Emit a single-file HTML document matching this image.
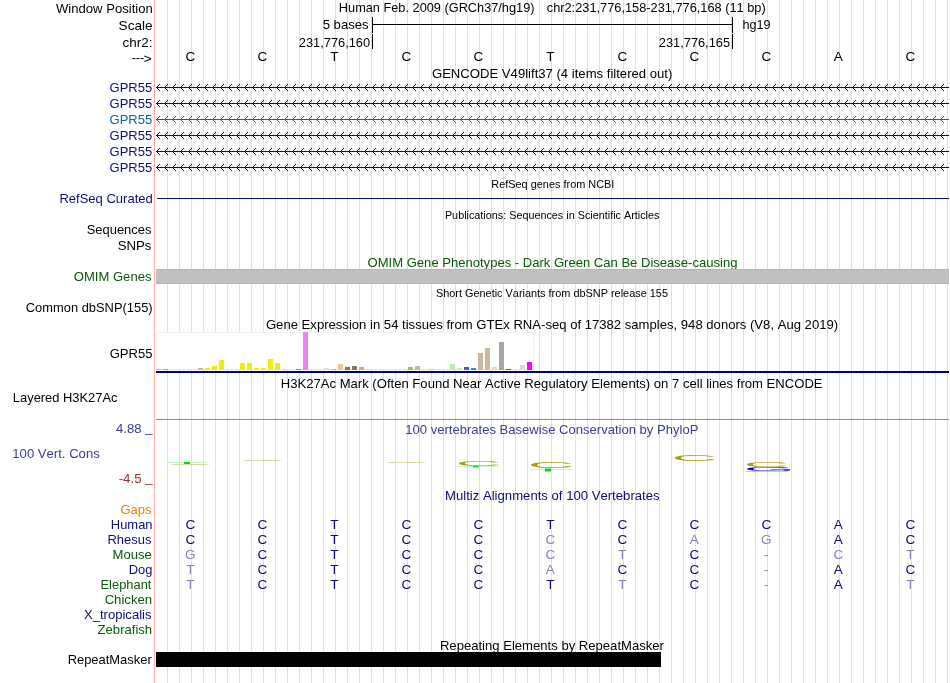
<!DOCTYPE html>
<html><head><meta charset="utf-8"><title>UCSC Genome Browser</title>
<style>html,body{margin:0;padding:0;background:#fff;width:950px;height:683px;overflow:hidden}svg{display:block}</style>
</head><body>
<svg width="950" height="683" viewBox="0 0 950 683" font-family='"Liberation Sans", Arial, Helvetica, sans-serif' style="font-kerning:none"><rect x="167" y="0" width="1" height="683" fill="#dcdcff"/>
<rect x="179" y="0" width="1" height="683" fill="#dcdcff"/>
<rect x="191" y="0" width="1" height="683" fill="#dcdcff"/>
<rect x="203" y="0" width="1" height="683" fill="#dcdcff"/>
<rect x="215" y="0" width="1" height="683" fill="#dcdcff"/>
<rect x="227" y="0" width="1" height="683" fill="#dcdcff"/>
<rect x="239" y="0" width="1" height="683" fill="#dcdcff"/>
<rect x="251" y="0" width="1" height="683" fill="#dcdcff"/>
<rect x="263" y="0" width="1" height="683" fill="#dcdcff"/>
<rect x="275" y="0" width="1" height="683" fill="#dcdcff"/>
<rect x="287" y="0" width="1" height="683" fill="#dcdcff"/>
<rect x="299" y="0" width="1" height="683" fill="#dcdcff"/>
<rect x="311" y="0" width="1" height="683" fill="#dcdcff"/>
<rect x="323" y="0" width="1" height="683" fill="#dcdcff"/>
<rect x="335" y="0" width="1" height="683" fill="#dcdcff"/>
<rect x="347" y="0" width="1" height="683" fill="#dcdcff"/>
<rect x="359" y="0" width="1" height="683" fill="#dcdcff"/>
<rect x="371" y="0" width="1" height="683" fill="#dcdcff"/>
<rect x="383" y="0" width="1" height="683" fill="#dcdcff"/>
<rect x="395" y="0" width="1" height="683" fill="#dcdcff"/>
<rect x="407" y="0" width="1" height="683" fill="#dcdcff"/>
<rect x="419" y="0" width="1" height="683" fill="#dcdcff"/>
<rect x="431" y="0" width="1" height="683" fill="#dcdcff"/>
<rect x="443" y="0" width="1" height="683" fill="#dcdcff"/>
<rect x="455" y="0" width="1" height="683" fill="#dcdcff"/>
<rect x="467" y="0" width="1" height="683" fill="#dcdcff"/>
<rect x="479" y="0" width="1" height="683" fill="#dcdcff"/>
<rect x="491" y="0" width="1" height="683" fill="#dcdcff"/>
<rect x="503" y="0" width="1" height="683" fill="#dcdcff"/>
<rect x="515" y="0" width="1" height="683" fill="#dcdcff"/>
<rect x="527" y="0" width="1" height="683" fill="#dcdcff"/>
<rect x="539" y="0" width="1" height="683" fill="#dcdcff"/>
<rect x="551" y="0" width="1" height="683" fill="#dcdcff"/>
<rect x="563" y="0" width="1" height="683" fill="#dcdcff"/>
<rect x="575" y="0" width="1" height="683" fill="#dcdcff"/>
<rect x="587" y="0" width="1" height="683" fill="#dcdcff"/>
<rect x="599" y="0" width="1" height="683" fill="#dcdcff"/>
<rect x="611" y="0" width="1" height="683" fill="#dcdcff"/>
<rect x="623" y="0" width="1" height="683" fill="#dcdcff"/>
<rect x="635" y="0" width="1" height="683" fill="#dcdcff"/>
<rect x="647" y="0" width="1" height="683" fill="#dcdcff"/>
<rect x="659" y="0" width="1" height="683" fill="#dcdcff"/>
<rect x="671" y="0" width="1" height="683" fill="#dcdcff"/>
<rect x="683" y="0" width="1" height="683" fill="#dcdcff"/>
<rect x="695" y="0" width="1" height="683" fill="#dcdcff"/>
<rect x="707" y="0" width="1" height="683" fill="#dcdcff"/>
<rect x="719" y="0" width="1" height="683" fill="#dcdcff"/>
<rect x="731" y="0" width="1" height="683" fill="#dcdcff"/>
<rect x="743" y="0" width="1" height="683" fill="#dcdcff"/>
<rect x="755" y="0" width="1" height="683" fill="#dcdcff"/>
<rect x="767" y="0" width="1" height="683" fill="#dcdcff"/>
<rect x="779" y="0" width="1" height="683" fill="#dcdcff"/>
<rect x="791" y="0" width="1" height="683" fill="#dcdcff"/>
<rect x="803" y="0" width="1" height="683" fill="#dcdcff"/>
<rect x="815" y="0" width="1" height="683" fill="#dcdcff"/>
<rect x="827" y="0" width="1" height="683" fill="#dcdcff"/>
<rect x="839" y="0" width="1" height="683" fill="#dcdcff"/>
<rect x="851" y="0" width="1" height="683" fill="#dcdcff"/>
<rect x="863" y="0" width="1" height="683" fill="#dcdcff"/>
<rect x="875" y="0" width="1" height="683" fill="#dcdcff"/>
<rect x="887" y="0" width="1" height="683" fill="#dcdcff"/>
<rect x="899" y="0" width="1" height="683" fill="#dcdcff"/>
<rect x="911" y="0" width="1" height="683" fill="#dcdcff"/>
<rect x="923" y="0" width="1" height="683" fill="#dcdcff"/>
<rect x="935" y="0" width="1" height="683" fill="#dcdcff"/>
<rect x="947" y="0" width="1" height="683" fill="#dcdcff"/>
<rect x="154" y="0" width="1" height="683" fill="#ffb4b4"/>
<text x="338.85" y="12" font-size="13.5" fill="#000" textLength="195.64" lengthAdjust="spacingAndGlyphs">Human Feb. 2009 (GRCh37/hg19)</text>
<text x="546.76" y="12" font-size="13.5" fill="#000" textLength="218.94" lengthAdjust="spacingAndGlyphs">chr2:231,776,158-231,776,168 (11 bp)</text>
<rect x="372" y="24" width="361" height="1" fill="#000"/>
<rect x="372" y="17" width="1" height="16" fill="#000"/>
<rect x="732" y="17" width="1" height="16" fill="#000"/>
<text x="322.67" y="29" font-size="13.5" fill="#000" textLength="46.00" lengthAdjust="spacingAndGlyphs">5 bases</text>
<text x="742.42" y="29" font-size="13.5" fill="#000" textLength="28.18" lengthAdjust="spacingAndGlyphs">hg19</text>
<rect x="372" y="34" width="1" height="15" fill="#000"/>
<rect x="732" y="34" width="1" height="15" fill="#000"/>
<text x="298.86" y="47" font-size="13.5" fill="#000" textLength="71.24" lengthAdjust="spacingAndGlyphs">231,776,160</text>
<text x="658.86" y="47" font-size="13.5" fill="#000" textLength="71.18" lengthAdjust="spacingAndGlyphs">231,776,165</text>
<text x="190.3" y="61" font-size="13.5" fill="#000" text-anchor="middle">C</text>
<text x="262.3" y="61" font-size="13.5" fill="#000" text-anchor="middle">C</text>
<text x="334.3" y="61" font-size="13.5" fill="#000" text-anchor="middle">T</text>
<text x="406.3" y="61" font-size="13.5" fill="#000" text-anchor="middle">C</text>
<text x="478.3" y="61" font-size="13.5" fill="#000" text-anchor="middle">C</text>
<text x="550.3" y="61" font-size="13.5" fill="#000" text-anchor="middle">T</text>
<text x="622.3" y="61" font-size="13.5" fill="#000" text-anchor="middle">C</text>
<text x="694.3" y="61" font-size="13.5" fill="#000" text-anchor="middle">C</text>
<text x="766.3" y="61" font-size="13.5" fill="#000" text-anchor="middle">C</text>
<text x="838.3" y="61" font-size="13.5" fill="#000" text-anchor="middle">A</text>
<text x="910.3" y="61" font-size="13.5" fill="#000" text-anchor="middle">C</text>
<text x="55.94" y="13" font-size="13.5" fill="#000" textLength="96.81" lengthAdjust="spacingAndGlyphs">Window Position</text>
<text x="118.58" y="30" font-size="13.5" fill="#000" textLength="34.02" lengthAdjust="spacingAndGlyphs">Scale</text>
<text x="122.53" y="47" font-size="13.5" fill="#000" textLength="29.90" lengthAdjust="spacingAndGlyphs">chr2:</text>
<text x="131.63" y="62" font-size="13.5" fill="#000"><tspan textLength="12.73" lengthAdjust="spacingAndGlyphs">---</tspan><tspan x="143.51" y="62.9" textLength="8.17" lengthAdjust="spacingAndGlyphs">&gt;</tspan></text>
<text x="431.94" y="78" font-size="13.5" fill="#000" textLength="240.37" lengthAdjust="spacingAndGlyphs">GENCODE V49lift37 (4 items filtered out)</text>
<text x="109.55" y="92" font-size="13.5" fill="#0c0c78" textLength="42.70" lengthAdjust="spacingAndGlyphs">GPR55</text>
<rect x="156" y="87" width="793" height="1" fill="#0c0c78"/>
<path d="M160.0,84.0L156.5,87.5L160.0,91.0M168.0,84.0L164.5,87.5L168.0,91.0M176.0,84.0L172.5,87.5L176.0,91.0M184.0,84.0L180.5,87.5L184.0,91.0M192.0,84.0L188.5,87.5L192.0,91.0M200.0,84.0L196.5,87.5L200.0,91.0M208.0,84.0L204.5,87.5L208.0,91.0M216.0,84.0L212.5,87.5L216.0,91.0M224.0,84.0L220.5,87.5L224.0,91.0M232.0,84.0L228.5,87.5L232.0,91.0M240.0,84.0L236.5,87.5L240.0,91.0M248.0,84.0L244.5,87.5L248.0,91.0M256.0,84.0L252.5,87.5L256.0,91.0M264.0,84.0L260.5,87.5L264.0,91.0M272.0,84.0L268.5,87.5L272.0,91.0M280.0,84.0L276.5,87.5L280.0,91.0M288.0,84.0L284.5,87.5L288.0,91.0M296.0,84.0L292.5,87.5L296.0,91.0M304.0,84.0L300.5,87.5L304.0,91.0M312.0,84.0L308.5,87.5L312.0,91.0M320.0,84.0L316.5,87.5L320.0,91.0M328.0,84.0L324.5,87.5L328.0,91.0M336.0,84.0L332.5,87.5L336.0,91.0M344.0,84.0L340.5,87.5L344.0,91.0M352.0,84.0L348.5,87.5L352.0,91.0M360.0,84.0L356.5,87.5L360.0,91.0M368.0,84.0L364.5,87.5L368.0,91.0M376.0,84.0L372.5,87.5L376.0,91.0M384.0,84.0L380.5,87.5L384.0,91.0M392.0,84.0L388.5,87.5L392.0,91.0M400.0,84.0L396.5,87.5L400.0,91.0M408.0,84.0L404.5,87.5L408.0,91.0M416.0,84.0L412.5,87.5L416.0,91.0M424.0,84.0L420.5,87.5L424.0,91.0M432.0,84.0L428.5,87.5L432.0,91.0M440.0,84.0L436.5,87.5L440.0,91.0M448.0,84.0L444.5,87.5L448.0,91.0M456.0,84.0L452.5,87.5L456.0,91.0M464.0,84.0L460.5,87.5L464.0,91.0M472.0,84.0L468.5,87.5L472.0,91.0M480.0,84.0L476.5,87.5L480.0,91.0M488.0,84.0L484.5,87.5L488.0,91.0M496.0,84.0L492.5,87.5L496.0,91.0M504.0,84.0L500.5,87.5L504.0,91.0M512.0,84.0L508.5,87.5L512.0,91.0M520.0,84.0L516.5,87.5L520.0,91.0M528.0,84.0L524.5,87.5L528.0,91.0M536.0,84.0L532.5,87.5L536.0,91.0M544.0,84.0L540.5,87.5L544.0,91.0M552.0,84.0L548.5,87.5L552.0,91.0M560.0,84.0L556.5,87.5L560.0,91.0M568.0,84.0L564.5,87.5L568.0,91.0M576.0,84.0L572.5,87.5L576.0,91.0M584.0,84.0L580.5,87.5L584.0,91.0M592.0,84.0L588.5,87.5L592.0,91.0M600.0,84.0L596.5,87.5L600.0,91.0M608.0,84.0L604.5,87.5L608.0,91.0M616.0,84.0L612.5,87.5L616.0,91.0M624.0,84.0L620.5,87.5L624.0,91.0M632.0,84.0L628.5,87.5L632.0,91.0M640.0,84.0L636.5,87.5L640.0,91.0M648.0,84.0L644.5,87.5L648.0,91.0M656.0,84.0L652.5,87.5L656.0,91.0M664.0,84.0L660.5,87.5L664.0,91.0M672.0,84.0L668.5,87.5L672.0,91.0M680.0,84.0L676.5,87.5L680.0,91.0M688.0,84.0L684.5,87.5L688.0,91.0M696.0,84.0L692.5,87.5L696.0,91.0M704.0,84.0L700.5,87.5L704.0,91.0M712.0,84.0L708.5,87.5L712.0,91.0M720.0,84.0L716.5,87.5L720.0,91.0M728.0,84.0L724.5,87.5L728.0,91.0M736.0,84.0L732.5,87.5L736.0,91.0M744.0,84.0L740.5,87.5L744.0,91.0M752.0,84.0L748.5,87.5L752.0,91.0M760.0,84.0L756.5,87.5L760.0,91.0M768.0,84.0L764.5,87.5L768.0,91.0M776.0,84.0L772.5,87.5L776.0,91.0M784.0,84.0L780.5,87.5L784.0,91.0M792.0,84.0L788.5,87.5L792.0,91.0M800.0,84.0L796.5,87.5L800.0,91.0M808.0,84.0L804.5,87.5L808.0,91.0M816.0,84.0L812.5,87.5L816.0,91.0M824.0,84.0L820.5,87.5L824.0,91.0M832.0,84.0L828.5,87.5L832.0,91.0M840.0,84.0L836.5,87.5L840.0,91.0M848.0,84.0L844.5,87.5L848.0,91.0M856.0,84.0L852.5,87.5L856.0,91.0M864.0,84.0L860.5,87.5L864.0,91.0M872.0,84.0L868.5,87.5L872.0,91.0M880.0,84.0L876.5,87.5L880.0,91.0M888.0,84.0L884.5,87.5L888.0,91.0M896.0,84.0L892.5,87.5L896.0,91.0M904.0,84.0L900.5,87.5L904.0,91.0M912.0,84.0L908.5,87.5L912.0,91.0M920.0,84.0L916.5,87.5L920.0,91.0M928.0,84.0L924.5,87.5L928.0,91.0M936.0,84.0L932.5,87.5L936.0,91.0M944.0,84.0L940.5,87.5L944.0,91.0" stroke="#0c0c78" stroke-width="1" fill="none"/>
<text x="109.55" y="108" font-size="13.5" fill="#0c0c78" textLength="42.70" lengthAdjust="spacingAndGlyphs">GPR55</text>
<rect x="156" y="103" width="793" height="1" fill="#0c0c78"/>
<path d="M160.0,100.0L156.5,103.5L160.0,107.0M168.0,100.0L164.5,103.5L168.0,107.0M176.0,100.0L172.5,103.5L176.0,107.0M184.0,100.0L180.5,103.5L184.0,107.0M192.0,100.0L188.5,103.5L192.0,107.0M200.0,100.0L196.5,103.5L200.0,107.0M208.0,100.0L204.5,103.5L208.0,107.0M216.0,100.0L212.5,103.5L216.0,107.0M224.0,100.0L220.5,103.5L224.0,107.0M232.0,100.0L228.5,103.5L232.0,107.0M240.0,100.0L236.5,103.5L240.0,107.0M248.0,100.0L244.5,103.5L248.0,107.0M256.0,100.0L252.5,103.5L256.0,107.0M264.0,100.0L260.5,103.5L264.0,107.0M272.0,100.0L268.5,103.5L272.0,107.0M280.0,100.0L276.5,103.5L280.0,107.0M288.0,100.0L284.5,103.5L288.0,107.0M296.0,100.0L292.5,103.5L296.0,107.0M304.0,100.0L300.5,103.5L304.0,107.0M312.0,100.0L308.5,103.5L312.0,107.0M320.0,100.0L316.5,103.5L320.0,107.0M328.0,100.0L324.5,103.5L328.0,107.0M336.0,100.0L332.5,103.5L336.0,107.0M344.0,100.0L340.5,103.5L344.0,107.0M352.0,100.0L348.5,103.5L352.0,107.0M360.0,100.0L356.5,103.5L360.0,107.0M368.0,100.0L364.5,103.5L368.0,107.0M376.0,100.0L372.5,103.5L376.0,107.0M384.0,100.0L380.5,103.5L384.0,107.0M392.0,100.0L388.5,103.5L392.0,107.0M400.0,100.0L396.5,103.5L400.0,107.0M408.0,100.0L404.5,103.5L408.0,107.0M416.0,100.0L412.5,103.5L416.0,107.0M424.0,100.0L420.5,103.5L424.0,107.0M432.0,100.0L428.5,103.5L432.0,107.0M440.0,100.0L436.5,103.5L440.0,107.0M448.0,100.0L444.5,103.5L448.0,107.0M456.0,100.0L452.5,103.5L456.0,107.0M464.0,100.0L460.5,103.5L464.0,107.0M472.0,100.0L468.5,103.5L472.0,107.0M480.0,100.0L476.5,103.5L480.0,107.0M488.0,100.0L484.5,103.5L488.0,107.0M496.0,100.0L492.5,103.5L496.0,107.0M504.0,100.0L500.5,103.5L504.0,107.0M512.0,100.0L508.5,103.5L512.0,107.0M520.0,100.0L516.5,103.5L520.0,107.0M528.0,100.0L524.5,103.5L528.0,107.0M536.0,100.0L532.5,103.5L536.0,107.0M544.0,100.0L540.5,103.5L544.0,107.0M552.0,100.0L548.5,103.5L552.0,107.0M560.0,100.0L556.5,103.5L560.0,107.0M568.0,100.0L564.5,103.5L568.0,107.0M576.0,100.0L572.5,103.5L576.0,107.0M584.0,100.0L580.5,103.5L584.0,107.0M592.0,100.0L588.5,103.5L592.0,107.0M600.0,100.0L596.5,103.5L600.0,107.0M608.0,100.0L604.5,103.5L608.0,107.0M616.0,100.0L612.5,103.5L616.0,107.0M624.0,100.0L620.5,103.5L624.0,107.0M632.0,100.0L628.5,103.5L632.0,107.0M640.0,100.0L636.5,103.5L640.0,107.0M648.0,100.0L644.5,103.5L648.0,107.0M656.0,100.0L652.5,103.5L656.0,107.0M664.0,100.0L660.5,103.5L664.0,107.0M672.0,100.0L668.5,103.5L672.0,107.0M680.0,100.0L676.5,103.5L680.0,107.0M688.0,100.0L684.5,103.5L688.0,107.0M696.0,100.0L692.5,103.5L696.0,107.0M704.0,100.0L700.5,103.5L704.0,107.0M712.0,100.0L708.5,103.5L712.0,107.0M720.0,100.0L716.5,103.5L720.0,107.0M728.0,100.0L724.5,103.5L728.0,107.0M736.0,100.0L732.5,103.5L736.0,107.0M744.0,100.0L740.5,103.5L744.0,107.0M752.0,100.0L748.5,103.5L752.0,107.0M760.0,100.0L756.5,103.5L760.0,107.0M768.0,100.0L764.5,103.5L768.0,107.0M776.0,100.0L772.5,103.5L776.0,107.0M784.0,100.0L780.5,103.5L784.0,107.0M792.0,100.0L788.5,103.5L792.0,107.0M800.0,100.0L796.5,103.5L800.0,107.0M808.0,100.0L804.5,103.5L808.0,107.0M816.0,100.0L812.5,103.5L816.0,107.0M824.0,100.0L820.5,103.5L824.0,107.0M832.0,100.0L828.5,103.5L832.0,107.0M840.0,100.0L836.5,103.5L840.0,107.0M848.0,100.0L844.5,103.5L848.0,107.0M856.0,100.0L852.5,103.5L856.0,107.0M864.0,100.0L860.5,103.5L864.0,107.0M872.0,100.0L868.5,103.5L872.0,107.0M880.0,100.0L876.5,103.5L880.0,107.0M888.0,100.0L884.5,103.5L888.0,107.0M896.0,100.0L892.5,103.5L896.0,107.0M904.0,100.0L900.5,103.5L904.0,107.0M912.0,100.0L908.5,103.5L912.0,107.0M920.0,100.0L916.5,103.5L920.0,107.0M928.0,100.0L924.5,103.5L928.0,107.0M936.0,100.0L932.5,103.5L936.0,107.0M944.0,100.0L940.5,103.5L944.0,107.0" stroke="#0c0c78" stroke-width="1" fill="none"/>
<text x="109.55" y="124" font-size="13.5" fill="#0e62a8" textLength="42.70" lengthAdjust="spacingAndGlyphs">GPR55</text>
<rect x="156" y="119" width="793" height="1" fill="#0e62a8"/>
<path d="M160.0,116.0L156.5,119.5L160.0,123.0M168.0,116.0L164.5,119.5L168.0,123.0M176.0,116.0L172.5,119.5L176.0,123.0M184.0,116.0L180.5,119.5L184.0,123.0M192.0,116.0L188.5,119.5L192.0,123.0M200.0,116.0L196.5,119.5L200.0,123.0M208.0,116.0L204.5,119.5L208.0,123.0M216.0,116.0L212.5,119.5L216.0,123.0M224.0,116.0L220.5,119.5L224.0,123.0M232.0,116.0L228.5,119.5L232.0,123.0M240.0,116.0L236.5,119.5L240.0,123.0M248.0,116.0L244.5,119.5L248.0,123.0M256.0,116.0L252.5,119.5L256.0,123.0M264.0,116.0L260.5,119.5L264.0,123.0M272.0,116.0L268.5,119.5L272.0,123.0M280.0,116.0L276.5,119.5L280.0,123.0M288.0,116.0L284.5,119.5L288.0,123.0M296.0,116.0L292.5,119.5L296.0,123.0M304.0,116.0L300.5,119.5L304.0,123.0M312.0,116.0L308.5,119.5L312.0,123.0M320.0,116.0L316.5,119.5L320.0,123.0M328.0,116.0L324.5,119.5L328.0,123.0M336.0,116.0L332.5,119.5L336.0,123.0M344.0,116.0L340.5,119.5L344.0,123.0M352.0,116.0L348.5,119.5L352.0,123.0M360.0,116.0L356.5,119.5L360.0,123.0M368.0,116.0L364.5,119.5L368.0,123.0M376.0,116.0L372.5,119.5L376.0,123.0M384.0,116.0L380.5,119.5L384.0,123.0M392.0,116.0L388.5,119.5L392.0,123.0M400.0,116.0L396.5,119.5L400.0,123.0M408.0,116.0L404.5,119.5L408.0,123.0M416.0,116.0L412.5,119.5L416.0,123.0M424.0,116.0L420.5,119.5L424.0,123.0M432.0,116.0L428.5,119.5L432.0,123.0M440.0,116.0L436.5,119.5L440.0,123.0M448.0,116.0L444.5,119.5L448.0,123.0M456.0,116.0L452.5,119.5L456.0,123.0M464.0,116.0L460.5,119.5L464.0,123.0M472.0,116.0L468.5,119.5L472.0,123.0M480.0,116.0L476.5,119.5L480.0,123.0M488.0,116.0L484.5,119.5L488.0,123.0M496.0,116.0L492.5,119.5L496.0,123.0M504.0,116.0L500.5,119.5L504.0,123.0M512.0,116.0L508.5,119.5L512.0,123.0M520.0,116.0L516.5,119.5L520.0,123.0M528.0,116.0L524.5,119.5L528.0,123.0M536.0,116.0L532.5,119.5L536.0,123.0M544.0,116.0L540.5,119.5L544.0,123.0M552.0,116.0L548.5,119.5L552.0,123.0M560.0,116.0L556.5,119.5L560.0,123.0M568.0,116.0L564.5,119.5L568.0,123.0M576.0,116.0L572.5,119.5L576.0,123.0M584.0,116.0L580.5,119.5L584.0,123.0M592.0,116.0L588.5,119.5L592.0,123.0M600.0,116.0L596.5,119.5L600.0,123.0M608.0,116.0L604.5,119.5L608.0,123.0M616.0,116.0L612.5,119.5L616.0,123.0M624.0,116.0L620.5,119.5L624.0,123.0M632.0,116.0L628.5,119.5L632.0,123.0M640.0,116.0L636.5,119.5L640.0,123.0M648.0,116.0L644.5,119.5L648.0,123.0M656.0,116.0L652.5,119.5L656.0,123.0M664.0,116.0L660.5,119.5L664.0,123.0M672.0,116.0L668.5,119.5L672.0,123.0M680.0,116.0L676.5,119.5L680.0,123.0M688.0,116.0L684.5,119.5L688.0,123.0M696.0,116.0L692.5,119.5L696.0,123.0M704.0,116.0L700.5,119.5L704.0,123.0M712.0,116.0L708.5,119.5L712.0,123.0M720.0,116.0L716.5,119.5L720.0,123.0M728.0,116.0L724.5,119.5L728.0,123.0M736.0,116.0L732.5,119.5L736.0,123.0M744.0,116.0L740.5,119.5L744.0,123.0M752.0,116.0L748.5,119.5L752.0,123.0M760.0,116.0L756.5,119.5L760.0,123.0M768.0,116.0L764.5,119.5L768.0,123.0M776.0,116.0L772.5,119.5L776.0,123.0M784.0,116.0L780.5,119.5L784.0,123.0M792.0,116.0L788.5,119.5L792.0,123.0M800.0,116.0L796.5,119.5L800.0,123.0M808.0,116.0L804.5,119.5L808.0,123.0M816.0,116.0L812.5,119.5L816.0,123.0M824.0,116.0L820.5,119.5L824.0,123.0M832.0,116.0L828.5,119.5L832.0,123.0M840.0,116.0L836.5,119.5L840.0,123.0M848.0,116.0L844.5,119.5L848.0,123.0M856.0,116.0L852.5,119.5L856.0,123.0M864.0,116.0L860.5,119.5L864.0,123.0M872.0,116.0L868.5,119.5L872.0,123.0M880.0,116.0L876.5,119.5L880.0,123.0M888.0,116.0L884.5,119.5L888.0,123.0M896.0,116.0L892.5,119.5L896.0,123.0M904.0,116.0L900.5,119.5L904.0,123.0M912.0,116.0L908.5,119.5L912.0,123.0M920.0,116.0L916.5,119.5L920.0,123.0M928.0,116.0L924.5,119.5L928.0,123.0M936.0,116.0L932.5,119.5L936.0,123.0M944.0,116.0L940.5,119.5L944.0,123.0" stroke="#0e62a8" stroke-width="1" fill="none"/>
<text x="109.55" y="140" font-size="13.5" fill="#0c0c78" textLength="42.70" lengthAdjust="spacingAndGlyphs">GPR55</text>
<rect x="156" y="135" width="793" height="1" fill="#0c0c78"/>
<path d="M160.0,132.0L156.5,135.5L160.0,139.0M168.0,132.0L164.5,135.5L168.0,139.0M176.0,132.0L172.5,135.5L176.0,139.0M184.0,132.0L180.5,135.5L184.0,139.0M192.0,132.0L188.5,135.5L192.0,139.0M200.0,132.0L196.5,135.5L200.0,139.0M208.0,132.0L204.5,135.5L208.0,139.0M216.0,132.0L212.5,135.5L216.0,139.0M224.0,132.0L220.5,135.5L224.0,139.0M232.0,132.0L228.5,135.5L232.0,139.0M240.0,132.0L236.5,135.5L240.0,139.0M248.0,132.0L244.5,135.5L248.0,139.0M256.0,132.0L252.5,135.5L256.0,139.0M264.0,132.0L260.5,135.5L264.0,139.0M272.0,132.0L268.5,135.5L272.0,139.0M280.0,132.0L276.5,135.5L280.0,139.0M288.0,132.0L284.5,135.5L288.0,139.0M296.0,132.0L292.5,135.5L296.0,139.0M304.0,132.0L300.5,135.5L304.0,139.0M312.0,132.0L308.5,135.5L312.0,139.0M320.0,132.0L316.5,135.5L320.0,139.0M328.0,132.0L324.5,135.5L328.0,139.0M336.0,132.0L332.5,135.5L336.0,139.0M344.0,132.0L340.5,135.5L344.0,139.0M352.0,132.0L348.5,135.5L352.0,139.0M360.0,132.0L356.5,135.5L360.0,139.0M368.0,132.0L364.5,135.5L368.0,139.0M376.0,132.0L372.5,135.5L376.0,139.0M384.0,132.0L380.5,135.5L384.0,139.0M392.0,132.0L388.5,135.5L392.0,139.0M400.0,132.0L396.5,135.5L400.0,139.0M408.0,132.0L404.5,135.5L408.0,139.0M416.0,132.0L412.5,135.5L416.0,139.0M424.0,132.0L420.5,135.5L424.0,139.0M432.0,132.0L428.5,135.5L432.0,139.0M440.0,132.0L436.5,135.5L440.0,139.0M448.0,132.0L444.5,135.5L448.0,139.0M456.0,132.0L452.5,135.5L456.0,139.0M464.0,132.0L460.5,135.5L464.0,139.0M472.0,132.0L468.5,135.5L472.0,139.0M480.0,132.0L476.5,135.5L480.0,139.0M488.0,132.0L484.5,135.5L488.0,139.0M496.0,132.0L492.5,135.5L496.0,139.0M504.0,132.0L500.5,135.5L504.0,139.0M512.0,132.0L508.5,135.5L512.0,139.0M520.0,132.0L516.5,135.5L520.0,139.0M528.0,132.0L524.5,135.5L528.0,139.0M536.0,132.0L532.5,135.5L536.0,139.0M544.0,132.0L540.5,135.5L544.0,139.0M552.0,132.0L548.5,135.5L552.0,139.0M560.0,132.0L556.5,135.5L560.0,139.0M568.0,132.0L564.5,135.5L568.0,139.0M576.0,132.0L572.5,135.5L576.0,139.0M584.0,132.0L580.5,135.5L584.0,139.0M592.0,132.0L588.5,135.5L592.0,139.0M600.0,132.0L596.5,135.5L600.0,139.0M608.0,132.0L604.5,135.5L608.0,139.0M616.0,132.0L612.5,135.5L616.0,139.0M624.0,132.0L620.5,135.5L624.0,139.0M632.0,132.0L628.5,135.5L632.0,139.0M640.0,132.0L636.5,135.5L640.0,139.0M648.0,132.0L644.5,135.5L648.0,139.0M656.0,132.0L652.5,135.5L656.0,139.0M664.0,132.0L660.5,135.5L664.0,139.0M672.0,132.0L668.5,135.5L672.0,139.0M680.0,132.0L676.5,135.5L680.0,139.0M688.0,132.0L684.5,135.5L688.0,139.0M696.0,132.0L692.5,135.5L696.0,139.0M704.0,132.0L700.5,135.5L704.0,139.0M712.0,132.0L708.5,135.5L712.0,139.0M720.0,132.0L716.5,135.5L720.0,139.0M728.0,132.0L724.5,135.5L728.0,139.0M736.0,132.0L732.5,135.5L736.0,139.0M744.0,132.0L740.5,135.5L744.0,139.0M752.0,132.0L748.5,135.5L752.0,139.0M760.0,132.0L756.5,135.5L760.0,139.0M768.0,132.0L764.5,135.5L768.0,139.0M776.0,132.0L772.5,135.5L776.0,139.0M784.0,132.0L780.5,135.5L784.0,139.0M792.0,132.0L788.5,135.5L792.0,139.0M800.0,132.0L796.5,135.5L800.0,139.0M808.0,132.0L804.5,135.5L808.0,139.0M816.0,132.0L812.5,135.5L816.0,139.0M824.0,132.0L820.5,135.5L824.0,139.0M832.0,132.0L828.5,135.5L832.0,139.0M840.0,132.0L836.5,135.5L840.0,139.0M848.0,132.0L844.5,135.5L848.0,139.0M856.0,132.0L852.5,135.5L856.0,139.0M864.0,132.0L860.5,135.5L864.0,139.0M872.0,132.0L868.5,135.5L872.0,139.0M880.0,132.0L876.5,135.5L880.0,139.0M888.0,132.0L884.5,135.5L888.0,139.0M896.0,132.0L892.5,135.5L896.0,139.0M904.0,132.0L900.5,135.5L904.0,139.0M912.0,132.0L908.5,135.5L912.0,139.0M920.0,132.0L916.5,135.5L920.0,139.0M928.0,132.0L924.5,135.5L928.0,139.0M936.0,132.0L932.5,135.5L936.0,139.0M944.0,132.0L940.5,135.5L944.0,139.0" stroke="#0c0c78" stroke-width="1" fill="none"/>
<text x="109.55" y="156" font-size="13.5" fill="#0c0c78" textLength="42.70" lengthAdjust="spacingAndGlyphs">GPR55</text>
<rect x="156" y="151" width="793" height="1" fill="#0c0c78"/>
<path d="M160.0,148.0L156.5,151.5L160.0,155.0M168.0,148.0L164.5,151.5L168.0,155.0M176.0,148.0L172.5,151.5L176.0,155.0M184.0,148.0L180.5,151.5L184.0,155.0M192.0,148.0L188.5,151.5L192.0,155.0M200.0,148.0L196.5,151.5L200.0,155.0M208.0,148.0L204.5,151.5L208.0,155.0M216.0,148.0L212.5,151.5L216.0,155.0M224.0,148.0L220.5,151.5L224.0,155.0M232.0,148.0L228.5,151.5L232.0,155.0M240.0,148.0L236.5,151.5L240.0,155.0M248.0,148.0L244.5,151.5L248.0,155.0M256.0,148.0L252.5,151.5L256.0,155.0M264.0,148.0L260.5,151.5L264.0,155.0M272.0,148.0L268.5,151.5L272.0,155.0M280.0,148.0L276.5,151.5L280.0,155.0M288.0,148.0L284.5,151.5L288.0,155.0M296.0,148.0L292.5,151.5L296.0,155.0M304.0,148.0L300.5,151.5L304.0,155.0M312.0,148.0L308.5,151.5L312.0,155.0M320.0,148.0L316.5,151.5L320.0,155.0M328.0,148.0L324.5,151.5L328.0,155.0M336.0,148.0L332.5,151.5L336.0,155.0M344.0,148.0L340.5,151.5L344.0,155.0M352.0,148.0L348.5,151.5L352.0,155.0M360.0,148.0L356.5,151.5L360.0,155.0M368.0,148.0L364.5,151.5L368.0,155.0M376.0,148.0L372.5,151.5L376.0,155.0M384.0,148.0L380.5,151.5L384.0,155.0M392.0,148.0L388.5,151.5L392.0,155.0M400.0,148.0L396.5,151.5L400.0,155.0M408.0,148.0L404.5,151.5L408.0,155.0M416.0,148.0L412.5,151.5L416.0,155.0M424.0,148.0L420.5,151.5L424.0,155.0M432.0,148.0L428.5,151.5L432.0,155.0M440.0,148.0L436.5,151.5L440.0,155.0M448.0,148.0L444.5,151.5L448.0,155.0M456.0,148.0L452.5,151.5L456.0,155.0M464.0,148.0L460.5,151.5L464.0,155.0M472.0,148.0L468.5,151.5L472.0,155.0M480.0,148.0L476.5,151.5L480.0,155.0M488.0,148.0L484.5,151.5L488.0,155.0M496.0,148.0L492.5,151.5L496.0,155.0M504.0,148.0L500.5,151.5L504.0,155.0M512.0,148.0L508.5,151.5L512.0,155.0M520.0,148.0L516.5,151.5L520.0,155.0M528.0,148.0L524.5,151.5L528.0,155.0M536.0,148.0L532.5,151.5L536.0,155.0M544.0,148.0L540.5,151.5L544.0,155.0M552.0,148.0L548.5,151.5L552.0,155.0M560.0,148.0L556.5,151.5L560.0,155.0M568.0,148.0L564.5,151.5L568.0,155.0M576.0,148.0L572.5,151.5L576.0,155.0M584.0,148.0L580.5,151.5L584.0,155.0M592.0,148.0L588.5,151.5L592.0,155.0M600.0,148.0L596.5,151.5L600.0,155.0M608.0,148.0L604.5,151.5L608.0,155.0M616.0,148.0L612.5,151.5L616.0,155.0M624.0,148.0L620.5,151.5L624.0,155.0M632.0,148.0L628.5,151.5L632.0,155.0M640.0,148.0L636.5,151.5L640.0,155.0M648.0,148.0L644.5,151.5L648.0,155.0M656.0,148.0L652.5,151.5L656.0,155.0M664.0,148.0L660.5,151.5L664.0,155.0M672.0,148.0L668.5,151.5L672.0,155.0M680.0,148.0L676.5,151.5L680.0,155.0M688.0,148.0L684.5,151.5L688.0,155.0M696.0,148.0L692.5,151.5L696.0,155.0M704.0,148.0L700.5,151.5L704.0,155.0M712.0,148.0L708.5,151.5L712.0,155.0M720.0,148.0L716.5,151.5L720.0,155.0M728.0,148.0L724.5,151.5L728.0,155.0M736.0,148.0L732.5,151.5L736.0,155.0M744.0,148.0L740.5,151.5L744.0,155.0M752.0,148.0L748.5,151.5L752.0,155.0M760.0,148.0L756.5,151.5L760.0,155.0M768.0,148.0L764.5,151.5L768.0,155.0M776.0,148.0L772.5,151.5L776.0,155.0M784.0,148.0L780.5,151.5L784.0,155.0M792.0,148.0L788.5,151.5L792.0,155.0M800.0,148.0L796.5,151.5L800.0,155.0M808.0,148.0L804.5,151.5L808.0,155.0M816.0,148.0L812.5,151.5L816.0,155.0M824.0,148.0L820.5,151.5L824.0,155.0M832.0,148.0L828.5,151.5L832.0,155.0M840.0,148.0L836.5,151.5L840.0,155.0M848.0,148.0L844.5,151.5L848.0,155.0M856.0,148.0L852.5,151.5L856.0,155.0M864.0,148.0L860.5,151.5L864.0,155.0M872.0,148.0L868.5,151.5L872.0,155.0M880.0,148.0L876.5,151.5L880.0,155.0M888.0,148.0L884.5,151.5L888.0,155.0M896.0,148.0L892.5,151.5L896.0,155.0M904.0,148.0L900.5,151.5L904.0,155.0M912.0,148.0L908.5,151.5L912.0,155.0M920.0,148.0L916.5,151.5L920.0,155.0M928.0,148.0L924.5,151.5L928.0,155.0M936.0,148.0L932.5,151.5L936.0,155.0M944.0,148.0L940.5,151.5L944.0,155.0" stroke="#0c0c78" stroke-width="1" fill="none"/>
<text x="109.55" y="172" font-size="13.5" fill="#0c0c78" textLength="42.70" lengthAdjust="spacingAndGlyphs">GPR55</text>
<rect x="156" y="167" width="793" height="1" fill="#0c0c78"/>
<path d="M160.0,164.0L156.5,167.5L160.0,171.0M168.0,164.0L164.5,167.5L168.0,171.0M176.0,164.0L172.5,167.5L176.0,171.0M184.0,164.0L180.5,167.5L184.0,171.0M192.0,164.0L188.5,167.5L192.0,171.0M200.0,164.0L196.5,167.5L200.0,171.0M208.0,164.0L204.5,167.5L208.0,171.0M216.0,164.0L212.5,167.5L216.0,171.0M224.0,164.0L220.5,167.5L224.0,171.0M232.0,164.0L228.5,167.5L232.0,171.0M240.0,164.0L236.5,167.5L240.0,171.0M248.0,164.0L244.5,167.5L248.0,171.0M256.0,164.0L252.5,167.5L256.0,171.0M264.0,164.0L260.5,167.5L264.0,171.0M272.0,164.0L268.5,167.5L272.0,171.0M280.0,164.0L276.5,167.5L280.0,171.0M288.0,164.0L284.5,167.5L288.0,171.0M296.0,164.0L292.5,167.5L296.0,171.0M304.0,164.0L300.5,167.5L304.0,171.0M312.0,164.0L308.5,167.5L312.0,171.0M320.0,164.0L316.5,167.5L320.0,171.0M328.0,164.0L324.5,167.5L328.0,171.0M336.0,164.0L332.5,167.5L336.0,171.0M344.0,164.0L340.5,167.5L344.0,171.0M352.0,164.0L348.5,167.5L352.0,171.0M360.0,164.0L356.5,167.5L360.0,171.0M368.0,164.0L364.5,167.5L368.0,171.0M376.0,164.0L372.5,167.5L376.0,171.0M384.0,164.0L380.5,167.5L384.0,171.0M392.0,164.0L388.5,167.5L392.0,171.0M400.0,164.0L396.5,167.5L400.0,171.0M408.0,164.0L404.5,167.5L408.0,171.0M416.0,164.0L412.5,167.5L416.0,171.0M424.0,164.0L420.5,167.5L424.0,171.0M432.0,164.0L428.5,167.5L432.0,171.0M440.0,164.0L436.5,167.5L440.0,171.0M448.0,164.0L444.5,167.5L448.0,171.0M456.0,164.0L452.5,167.5L456.0,171.0M464.0,164.0L460.5,167.5L464.0,171.0M472.0,164.0L468.5,167.5L472.0,171.0M480.0,164.0L476.5,167.5L480.0,171.0M488.0,164.0L484.5,167.5L488.0,171.0M496.0,164.0L492.5,167.5L496.0,171.0M504.0,164.0L500.5,167.5L504.0,171.0M512.0,164.0L508.5,167.5L512.0,171.0M520.0,164.0L516.5,167.5L520.0,171.0M528.0,164.0L524.5,167.5L528.0,171.0M536.0,164.0L532.5,167.5L536.0,171.0M544.0,164.0L540.5,167.5L544.0,171.0M552.0,164.0L548.5,167.5L552.0,171.0M560.0,164.0L556.5,167.5L560.0,171.0M568.0,164.0L564.5,167.5L568.0,171.0M576.0,164.0L572.5,167.5L576.0,171.0M584.0,164.0L580.5,167.5L584.0,171.0M592.0,164.0L588.5,167.5L592.0,171.0M600.0,164.0L596.5,167.5L600.0,171.0M608.0,164.0L604.5,167.5L608.0,171.0M616.0,164.0L612.5,167.5L616.0,171.0M624.0,164.0L620.5,167.5L624.0,171.0M632.0,164.0L628.5,167.5L632.0,171.0M640.0,164.0L636.5,167.5L640.0,171.0M648.0,164.0L644.5,167.5L648.0,171.0M656.0,164.0L652.5,167.5L656.0,171.0M664.0,164.0L660.5,167.5L664.0,171.0M672.0,164.0L668.5,167.5L672.0,171.0M680.0,164.0L676.5,167.5L680.0,171.0M688.0,164.0L684.5,167.5L688.0,171.0M696.0,164.0L692.5,167.5L696.0,171.0M704.0,164.0L700.5,167.5L704.0,171.0M712.0,164.0L708.5,167.5L712.0,171.0M720.0,164.0L716.5,167.5L720.0,171.0M728.0,164.0L724.5,167.5L728.0,171.0M736.0,164.0L732.5,167.5L736.0,171.0M744.0,164.0L740.5,167.5L744.0,171.0M752.0,164.0L748.5,167.5L752.0,171.0M760.0,164.0L756.5,167.5L760.0,171.0M768.0,164.0L764.5,167.5L768.0,171.0M776.0,164.0L772.5,167.5L776.0,171.0M784.0,164.0L780.5,167.5L784.0,171.0M792.0,164.0L788.5,167.5L792.0,171.0M800.0,164.0L796.5,167.5L800.0,171.0M808.0,164.0L804.5,167.5L808.0,171.0M816.0,164.0L812.5,167.5L816.0,171.0M824.0,164.0L820.5,167.5L824.0,171.0M832.0,164.0L828.5,167.5L832.0,171.0M840.0,164.0L836.5,167.5L840.0,171.0M848.0,164.0L844.5,167.5L848.0,171.0M856.0,164.0L852.5,167.5L856.0,171.0M864.0,164.0L860.5,167.5L864.0,171.0M872.0,164.0L868.5,167.5L872.0,171.0M880.0,164.0L876.5,167.5L880.0,171.0M888.0,164.0L884.5,167.5L888.0,171.0M896.0,164.0L892.5,167.5L896.0,171.0M904.0,164.0L900.5,167.5L904.0,171.0M912.0,164.0L908.5,167.5L912.0,171.0M920.0,164.0L916.5,167.5L920.0,171.0M928.0,164.0L924.5,167.5L928.0,171.0M936.0,164.0L932.5,167.5L936.0,171.0M944.0,164.0L940.5,167.5L944.0,171.0" stroke="#0c0c78" stroke-width="1" fill="none"/>
<text x="491.30" y="188" font-size="11" fill="#000" textLength="123.10" lengthAdjust="spacingAndGlyphs">RefSeq genes from NCBI</text>
<text x="59.43" y="203" font-size="13.5" fill="#0c0c78" textLength="93.31" lengthAdjust="spacingAndGlyphs">RefSeq Curated</text>
<rect x="157" y="198" width="792" height="1" fill="#0c0c78"/>
<text x="444.91" y="219.1" font-size="11" fill="#000" textLength="214.48" lengthAdjust="spacingAndGlyphs">Publications: Sequences in Scientific Articles</text>
<text x="86.71" y="234" font-size="13.5" fill="#000" textLength="64.76" lengthAdjust="spacingAndGlyphs">Sequences</text>
<text x="117.70" y="250" font-size="13.5" fill="#000" textLength="33.78" lengthAdjust="spacingAndGlyphs">SNPs</text>
<text x="367.58" y="267" font-size="13.5" fill="#075a07" textLength="369.86" lengthAdjust="spacingAndGlyphs">OMIM Gene Phenotypes - Dark Green Can Be Disease-causing</text>
<text x="73.78" y="281" font-size="13.5" fill="#075a07" textLength="77.69" lengthAdjust="spacingAndGlyphs">OMIM Genes</text>
<rect x="156" y="269" width="793" height="15" fill="#c0c0c0"/>
<rect x="156" y="269" width="793" height="1" fill="#b5b5b5"/>
<rect x="156" y="283" width="793" height="1" fill="#b5b5b5"/>
<text x="435.91" y="297" font-size="11" fill="#000" textLength="232.05" lengthAdjust="spacingAndGlyphs">Short Genetic Variants from dbSNP release 155</text>
<text x="25.75" y="312" font-size="13.5" fill="#000" textLength="126.85" lengthAdjust="spacingAndGlyphs">Common dbSNP(155)</text>
<text x="265.94" y="329" font-size="13.5" fill="#000" textLength="572.17" lengthAdjust="spacingAndGlyphs">Gene Expression in 54 tissues from GTEx RNA-seq of 17382 samples, 948 donors (V8, Aug 2019)</text>
<text x="109.64" y="358" font-size="13.5" fill="#000" textLength="42.80" lengthAdjust="spacingAndGlyphs">GPR55</text>
<rect x="156" y="332" width="378" height="38" fill="#ffffff"/>
<path d="M156.5,370 V332.5 H533.5 V370" stroke="#f2f2f2" fill="none"/>
<rect x="156" y="369" width="378" height="1" fill="#e6e2d6"/>
<rect x="156" y="369" width="5" height="1" fill="#FFA54F"/>
<rect x="163" y="369" width="5" height="1" fill="#EE9A00"/>
<rect x="198" y="368" width="5" height="2" fill="#CDB79E"/>
<rect x="205" y="368" width="5" height="2" fill="#EEEE00"/>
<rect x="212" y="366" width="5" height="4" fill="#EEEE00"/>
<rect x="219" y="360" width="5" height="10" fill="#EEEE00"/>
<rect x="240" y="363" width="5" height="7" fill="#EEEE00"/>
<rect x="247" y="363" width="5" height="7" fill="#EEEE00"/>
<rect x="254" y="368" width="5" height="2" fill="#EEEE00"/>
<rect x="261" y="368" width="5" height="2" fill="#EEEE00"/>
<rect x="268" y="359" width="5" height="11" fill="#EEEE00"/>
<rect x="275" y="363" width="5" height="7" fill="#EEEE00"/>
<rect x="282" y="369" width="5" height="1" fill="#EEEE00"/>
<rect x="296" y="369" width="5" height="1" fill="#00CDCD"/>
<rect x="303" y="332" width="5" height="38" fill="#EE82EE"/>
<rect x="317" y="369" width="5" height="1" fill="#EED5D2"/>
<rect x="324" y="368" width="5" height="2" fill="#EED5D2"/>
<rect x="331" y="369" width="5" height="1" fill="#CDB79E"/>
<rect x="338" y="364" width="5" height="6" fill="#EEC591"/>
<rect x="345" y="367" width="5" height="3" fill="#8B7355"/>
<rect x="352" y="366" width="5" height="4" fill="#8B7355"/>
<rect x="359" y="367" width="5" height="3" fill="#CDAA7D"/>
<rect x="366" y="369" width="5" height="1" fill="#EED5D2"/>
<rect x="408" y="367" width="5" height="3" fill="#9ACD32"/>
<rect x="415" y="366" width="5" height="4" fill="#CDB79E"/>
<rect x="429" y="369" width="5" height="1" fill="#FFD700"/>
<rect x="450" y="364" width="5" height="6" fill="#B4EEB4"/>
<rect x="457" y="368" width="5" height="2" fill="#D9D9D9"/>
<rect x="464" y="367" width="5" height="3" fill="#3A5FCD"/>
<rect x="471" y="368" width="5" height="2" fill="#1E90FF"/>
<rect x="478" y="353" width="5" height="17" fill="#CDB79E"/>
<rect x="485" y="348" width="5" height="22" fill="#CDB79E"/>
<rect x="492" y="367" width="5" height="3" fill="#FFD39B"/>
<rect x="499" y="342" width="5" height="28" fill="#A6A6A6"/>
<rect x="506" y="369" width="5" height="1" fill="#008B45"/>
<rect x="520" y="365" width="5" height="5" fill="#EED5D2"/>
<rect x="527" y="362" width="5" height="8" fill="#FF00FF"/>
<rect x="156" y="371" width="793" height="2" fill="#000072"/>
<text x="280.73" y="388" font-size="13.5" fill="#000" textLength="541.84" lengthAdjust="spacingAndGlyphs">H3K27Ac Mark (Often Found Near Active Regulatory Elements) on 7 cell lines from ENCODE</text>
<text x="12.84" y="402" font-size="13.5" fill="#000" textLength="104.70" lengthAdjust="spacingAndGlyphs">Layered H3K27Ac</text>
<rect x="156" y="419" width="793" height="1" fill="#ff6438"/>
<text x="405.31" y="434" font-size="13.5" fill="#3c3c96" textLength="293.08" lengthAdjust="spacingAndGlyphs">100 vertebrates Basewise Conservation by PhyloP</text>
<text x="115.90" y="433" font-size="13.5" fill="#3c3c96" textLength="36.65" lengthAdjust="spacingAndGlyphs">4.88 <tspan dy="-1">_</tspan></text>
<text x="12.30" y="458" font-size="13.5" fill="#3c3c96" textLength="87.47" lengthAdjust="spacingAndGlyphs">100 Vert. Cons</text>
<text x="118.71" y="483" font-size="13.5" fill="#8c3232" textLength="33.84" lengthAdjust="spacingAndGlyphs">-4.5 <tspan dy="-1">_</tspan></text>
<rect x="168" y="461.9" width="38" height="1" fill="#c8f5c8"/>
<text transform="matrix(3.1581,0,0,0.1130,167.19,465.18)" font-size="20" fill="#a89e10" opacity="0.8" >C</text>
<rect x="184" y="461.9" width="6" height="2.1" fill="#00e000"/>
<text transform="matrix(3.1581,0,0,0.1130,239.79,461.28)" font-size="20" fill="#a89e10" opacity="0.8" >C</text>
<text transform="matrix(3.1581,0,0,0.1130,383.79,463.28)" font-size="20" fill="#a89e10" opacity="0.8" >C</text>
<text transform="matrix(3.1581,0,0,0.3390,455.79,466.43)" font-size="20" fill="#a89e10" opacity="1" >C</text>
<rect x="457" y="466" width="43" height="1" fill="#c8f5c8"/>
<rect x="473" y="465.8" width="6" height="1.5" fill="#00e000"/>
<text transform="matrix(3.2370,0,0,0.4802,527.71,468.41)" font-size="20" fill="#a89e10" opacity="1" >C</text>
<rect x="530" y="469" width="43" height="1" fill="#c8f5c8"/>
<rect x="545" y="468.5" width="6" height="3" fill="#00e000"/>
<text transform="matrix(3.1581,0,0,0.4096,671.79,460.52)" font-size="20" fill="#a89e10" opacity="1" >C</text>
<text transform="matrix(3.1581,0,0,0.3743,743.79,466.93)" font-size="20" fill="#a89e10" opacity="1" >C</text>
<text transform="matrix(3.2933,0,0,0.2542,743.69,471.15)" font-size="20" fill="#0000ff" opacity="1" >G</text>
<rect x="746" y="471.2" width="42" height="0.8" fill="#ff8080" opacity="0.7"/>
<text x="445.02" y="500" font-size="13.5" fill="#0c0c78" textLength="214.55" lengthAdjust="spacingAndGlyphs">Multiz Alignments of 100 Vertebrates</text>
<text x="120.45" y="514" font-size="13.5" fill="#e6820f" textLength="31.02" lengthAdjust="spacingAndGlyphs">Gaps</text>
<text x="110.84" y="529" font-size="13.5" fill="#0c0c78" textLength="41.70" lengthAdjust="spacingAndGlyphs">Human</text>
<text x="107.43" y="544" font-size="13.5" fill="#0c0c78" textLength="44.03" lengthAdjust="spacingAndGlyphs">Rhesus</text>
<text x="112.52" y="559" font-size="13.5" fill="#075a07" textLength="39.36" lengthAdjust="spacingAndGlyphs">Mouse</text>
<text x="128.64" y="574" font-size="13.5" fill="#0c0c78" textLength="23.69" lengthAdjust="spacingAndGlyphs">Dog</text>
<text x="100.54" y="589" font-size="13.5" fill="#075a07" textLength="50.85" lengthAdjust="spacingAndGlyphs">Elephant</text>
<text x="104.63" y="604" font-size="13.5" fill="#075a07" textLength="47.52" lengthAdjust="spacingAndGlyphs">Chicken</text>
<text x="84.01" y="619" font-size="13.5" fill="#0c0c78" textLength="67.46" lengthAdjust="spacingAndGlyphs">X_tropicalis</text>
<text x="97.58" y="634" font-size="13.5" fill="#075a07" textLength="54.57" lengthAdjust="spacingAndGlyphs">Zebrafish</text>
<text x="190.3" y="529" font-size="13.5" fill="#0c0c78" text-anchor="middle">C</text>
<text x="262.3" y="529" font-size="13.5" fill="#0c0c78" text-anchor="middle">C</text>
<text x="334.3" y="529" font-size="13.5" fill="#0c0c78" text-anchor="middle">T</text>
<text x="406.3" y="529" font-size="13.5" fill="#0c0c78" text-anchor="middle">C</text>
<text x="478.3" y="529" font-size="13.5" fill="#0c0c78" text-anchor="middle">C</text>
<text x="550.3" y="529" font-size="13.5" fill="#0c0c78" text-anchor="middle">T</text>
<text x="622.3" y="529" font-size="13.5" fill="#0c0c78" text-anchor="middle">C</text>
<text x="694.3" y="529" font-size="13.5" fill="#0c0c78" text-anchor="middle">C</text>
<text x="766.3" y="529" font-size="13.5" fill="#0c0c78" text-anchor="middle">C</text>
<text x="838.3" y="529" font-size="13.5" fill="#0c0c78" text-anchor="middle">A</text>
<text x="910.3" y="529" font-size="13.5" fill="#0c0c78" text-anchor="middle">C</text>
<text x="190.3" y="544" font-size="13.5" fill="#0c0c78" text-anchor="middle">C</text>
<text x="262.3" y="544" font-size="13.5" fill="#0c0c78" text-anchor="middle">C</text>
<text x="334.3" y="544" font-size="13.5" fill="#0c0c78" text-anchor="middle">T</text>
<text x="406.3" y="544" font-size="13.5" fill="#0c0c78" text-anchor="middle">C</text>
<text x="478.3" y="544" font-size="13.5" fill="#0c0c78" text-anchor="middle">C</text>
<text x="550.3" y="544" font-size="13.5" fill="#8585b8" text-anchor="middle">C</text>
<text x="622.3" y="544" font-size="13.5" fill="#0c0c78" text-anchor="middle">C</text>
<text x="694.3" y="544" font-size="13.5" fill="#8585b8" text-anchor="middle">A</text>
<text x="766.3" y="544" font-size="13.5" fill="#8585b8" text-anchor="middle">G</text>
<text x="838.3" y="544" font-size="13.5" fill="#0c0c78" text-anchor="middle">A</text>
<text x="910.3" y="544" font-size="13.5" fill="#0c0c78" text-anchor="middle">C</text>
<text x="190.3" y="559" font-size="13.5" fill="#8585b8" text-anchor="middle">G</text>
<text x="262.3" y="559" font-size="13.5" fill="#0c0c78" text-anchor="middle">C</text>
<text x="334.3" y="559" font-size="13.5" fill="#0c0c78" text-anchor="middle">T</text>
<text x="406.3" y="559" font-size="13.5" fill="#0c0c78" text-anchor="middle">C</text>
<text x="478.3" y="559" font-size="13.5" fill="#0c0c78" text-anchor="middle">C</text>
<text x="550.3" y="559" font-size="13.5" fill="#8585b8" text-anchor="middle">C</text>
<text x="622.3" y="559" font-size="13.5" fill="#8585b8" text-anchor="middle">T</text>
<text x="694.3" y="559" font-size="13.5" fill="#0c0c78" text-anchor="middle">C</text>
<text x="766.3" y="559" font-size="13.5" fill="#8585b8" text-anchor="middle">-</text>
<text x="838.3" y="559" font-size="13.5" fill="#8585b8" text-anchor="middle">C</text>
<text x="910.3" y="559" font-size="13.5" fill="#8585b8" text-anchor="middle">T</text>
<text x="190.3" y="574" font-size="13.5" fill="#8585b8" text-anchor="middle">T</text>
<text x="262.3" y="574" font-size="13.5" fill="#0c0c78" text-anchor="middle">C</text>
<text x="334.3" y="574" font-size="13.5" fill="#0c0c78" text-anchor="middle">T</text>
<text x="406.3" y="574" font-size="13.5" fill="#0c0c78" text-anchor="middle">C</text>
<text x="478.3" y="574" font-size="13.5" fill="#0c0c78" text-anchor="middle">C</text>
<text x="550.3" y="574" font-size="13.5" fill="#8585b8" text-anchor="middle">A</text>
<text x="622.3" y="574" font-size="13.5" fill="#0c0c78" text-anchor="middle">C</text>
<text x="694.3" y="574" font-size="13.5" fill="#0c0c78" text-anchor="middle">C</text>
<text x="766.3" y="574" font-size="13.5" fill="#8585b8" text-anchor="middle">-</text>
<text x="838.3" y="574" font-size="13.5" fill="#0c0c78" text-anchor="middle">A</text>
<text x="910.3" y="574" font-size="13.5" fill="#0c0c78" text-anchor="middle">C</text>
<text x="190.3" y="589" font-size="13.5" fill="#8585b8" text-anchor="middle">T</text>
<text x="262.3" y="589" font-size="13.5" fill="#0c0c78" text-anchor="middle">C</text>
<text x="334.3" y="589" font-size="13.5" fill="#0c0c78" text-anchor="middle">T</text>
<text x="406.3" y="589" font-size="13.5" fill="#0c0c78" text-anchor="middle">C</text>
<text x="478.3" y="589" font-size="13.5" fill="#0c0c78" text-anchor="middle">C</text>
<text x="550.3" y="589" font-size="13.5" fill="#0c0c78" text-anchor="middle">T</text>
<text x="622.3" y="589" font-size="13.5" fill="#8585b8" text-anchor="middle">T</text>
<text x="694.3" y="589" font-size="13.5" fill="#0c0c78" text-anchor="middle">C</text>
<text x="766.3" y="589" font-size="13.5" fill="#8585b8" text-anchor="middle">-</text>
<text x="838.3" y="589" font-size="13.5" fill="#0c0c78" text-anchor="middle">A</text>
<text x="910.3" y="589" font-size="13.5" fill="#8585b8" text-anchor="middle">T</text>
<text x="439.93" y="650" font-size="13.5" fill="#000" textLength="223.99" lengthAdjust="spacingAndGlyphs">Repeating Elements by RepeatMasker</text>
<text x="67.64" y="664" font-size="13.5" fill="#000" textLength="84.08" lengthAdjust="spacingAndGlyphs">RepeatMasker</text>
<rect x="156" y="652" width="505" height="15" fill="#000"/></svg>
</body></html>
